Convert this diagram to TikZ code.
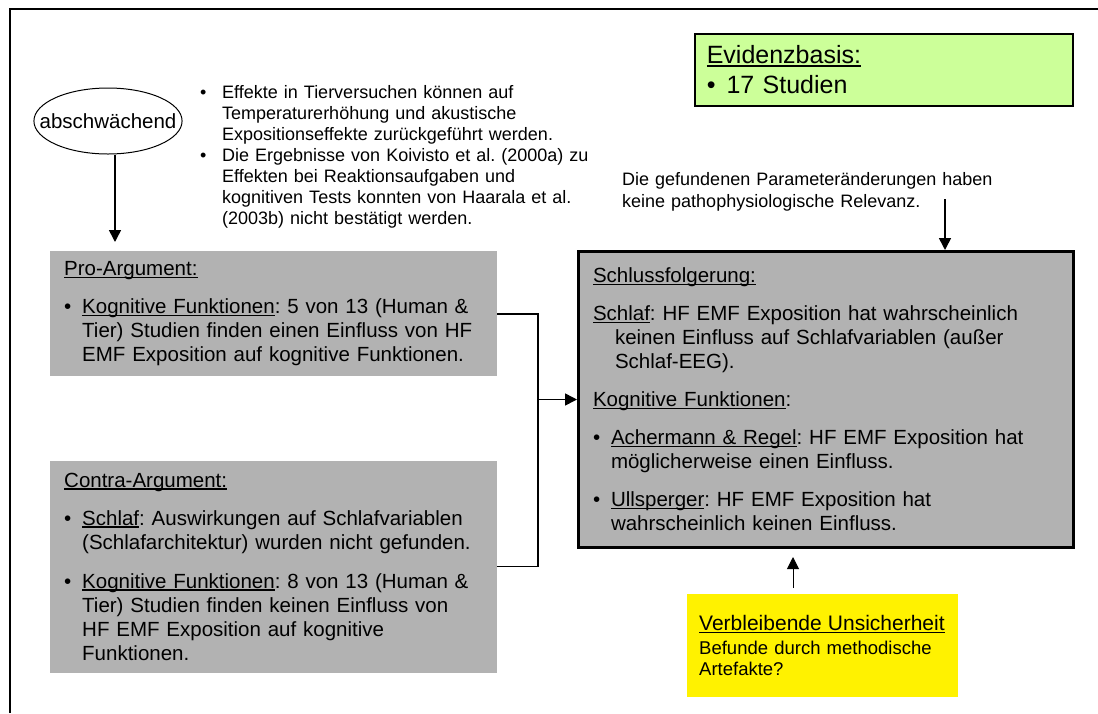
\documentclass[tikz,border=0pt]{standalone}
\usepackage{fontspec}
\setmainfont{Liberation Sans}
\usetikzlibrary{arrows.meta,positioning,shapes.geometric}

% underline close under the baseline
\newcommand{\uln}[1]{\leavevmode\setbox0\hbox{#1}\rlap{\rule[-0.12em]{\wd0}{0.06em}}\box0}
% bullet item with hanging indent (\newline for forced breaks)
\newcommand{\bitem}[2][18pt]{\par\hangindent=#1\hangafter=1\noindent\makebox[#1][l]{\textbullet}#2\par}
% paragraph with hanging indent, no bullet
\newcommand{\hitem}[1]{\par\hangindent=22pt\hangafter=1\noindent #1\par}

\begin{document}
\frenchspacing
\begin{tikzpicture}[x=1pt,y=-1pt,>={Triangle[length=12pt,width=12pt]},node distance=84pt,
    argbox/.style={fill=black!30,text width=419pt,inner xsep=14pt,inner ysep=6pt,anchor=north west,
      font=\fontsize{20.5}{24}\selectfont,align=left},
    notetext/.style={anchor=north west,inner sep=0pt,font=\fontsize{18}{21}\selectfont,align=left},
    line/.style={line width=1.6pt}]
  \useasboundingbox (0,0) rectangle (1098,713);
  \draw[line width=2pt] (10,713) -- (10,9) -- (1098,9);

  \node[draw,line width=1.6pt,fill={rgb,255:red,204;green,255;blue,153},minimum width=378pt,minimum height=72pt,
    text width=354pt,inner xsep=12pt,anchor=north west,align=left,font=\fontsize{25}{30}\selectfont] (evid) at (694,33)
    {\uln{Evidenzbasis:}\\\textbullet\hspace{11pt}17 Studien};

  \node[draw,ellipse,line width=1pt,minimum width=148pt,minimum height=66pt,inner xsep=-16pt,inner ysep=0pt,
    font=\fontsize{20.5}{24}\selectfont] (abs) at (108,121) {abschwächend};

  \node[notetext,text width=420pt] (tiernote) at (200,77)
    {\bitem[22pt]{Effekte in Tierversuchen können auf\newline Temperaturerhöhung und akustische\newline Expositionseffekte zurückgeführt werden.}
     \bitem[22pt]{Die Ergebnisse von Koivisto et al. (2000a) zu\newline Effekten bei Reaktionsaufgaben und\newline kognitiven Tests konnten von Haarala et al.\newline (2003b) nicht bestätigt werden.}};

  \node[notetext,text width=400pt,font=\fontsize{18}{22}\selectfont] (relnote) at (622,172)
    {Die gefundenen Parameteränderungen haben\\keine pathophysiologische Relevanz.};

  \node[argbox,minimum height=125pt] (pro) at (50,251)
    {\uln{Pro-Argument:}\par\vspace{14pt}
     \bitem{\uln{Kognitive Funktionen}: 5 von 13 (Human \&\newline Tier) Studien finden einen Einfluss von HF\newline EMF Exposition auf kognitive Funktionen.}};

  \node[argbox,minimum height=212pt,below=84pt of pro.south west,anchor=north west] (contra)
    {\uln{Contra-Argument:}\par\vspace{14pt}
     \bitem{\uln{Schlaf}: Auswirkungen auf Schlafvariablen\newline (Schlafarchitektur) wurden nicht gefunden.}\vspace{15pt}
     \bitem{\uln{Kognitive Funktionen}: 8 von 13 (Human \&\newline Tier) Studien finden keinen Einfluss von\newline HF EMF Exposition auf kognitive\newline Funktionen.}};

  \node[argbox,draw,line width=3pt,text width=466pt,minimum width=495pt,minimum height=296pt] (concl) at (577,250)
    {\uln{Schlussfolgerung:}\par\vspace{14pt}
     \hitem{\uln{Schlaf}: HF EMF Exposition hat wahrscheinlich\newline keinen Einfluss auf Schlafvariablen (außer\newline Schlaf-EEG).}\vspace{14pt}
     \uln{Kognitive Funktionen}:\par\vspace{14pt}
     \bitem{\uln{Achermann \& Regel}: HF EMF Exposition hat\newline möglicherweise einen Einfluss.}\vspace{14pt}
     \bitem{\uln{Ullsperger}: HF EMF Exposition hat\newline wahrscheinlich keinen Einfluss.}};

  \node[fill=yellow,text width=247pt,inner xsep=12pt,inner ysep=6pt,anchor=north west,align=left,
    minimum height=103pt,font=\fontsize{18.5}{21}\selectfont] (unsich) at (687,594)
    {{\fontsize{21}{24}\selectfont\uln{Verbleibende Unsicherheit}}\\[3pt]Befunde durch methodische\\Artefakte?\par\vspace{27pt}};

  \coordinate (knot) at (concl.west -| 538,0);
  \draw[line,->] (abs.south -| 115,0) -- ([yshift=9pt]pro.north -| 115,0);
  \draw[line,->] ([yshift=12pt]relnote.south -| 945,0) -- (concl.north -| 945,0);
  \draw[line] (pro.east) -| (knot) |- (contra.east);
  \draw[line,->] (knot) -- (concl.west);
  \draw[line width=1pt,->] (unsich.north -| 793,0) ++(0,-6) -- ([yshift=-8pt]concl.south -| 793,0);
\end{tikzpicture}
\end{document}
